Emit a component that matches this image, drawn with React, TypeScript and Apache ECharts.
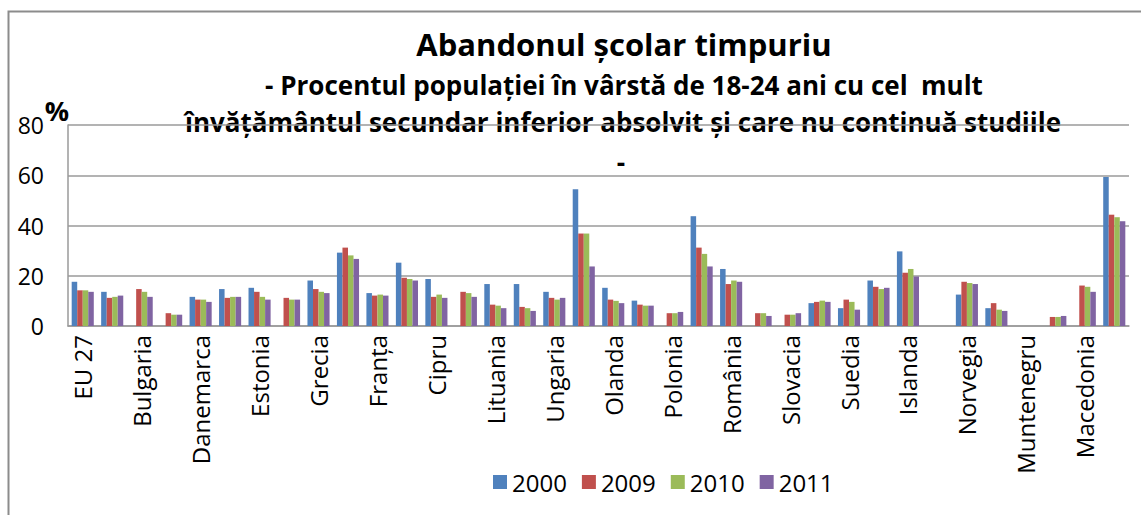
import React, { useEffect, useRef } from 'react';
import * as echarts from 'echarts';

const categories = [
  'EU 27', 'Belgia', 'Bulgaria', 'Cehia', 'Danemarca', 'Germania', 'Estonia', 'Irlanda',
  'Grecia', 'Spania', 'Franța', 'Italia', 'Cipru', 'Letonia', 'Lituania', 'Luxemburg',
  'Ungaria', 'Malta', 'Olanda', 'Austria', 'Polonia', 'Portugalia', 'România', 'Slovenia',
  'Slovacia', 'Finlanda', 'Suedia', 'Regatul Unit', 'Islanda', 'Liechtenstein', 'Norvegia',
  'Elveția', 'Muntenegru', 'Croația', 'Macedonia', 'Turcia',
];

const years = ['2000', '2009', '2010', '2011'];

const values2000 = [
  17.6, 13.6, null, null, 11.6, 14.7, 15.2, null, 18.1, 29.2, 13.1, 25.2, 18.7, null, 16.7, 16.7,
  13.6, 54.4, 15.2, 10.1, null, 43.7, 22.7, null, null, 9.1, 7.1, 18.1, 29.7, null, 12.5, 7.1,
  null, null, null, 59.3,
];
const values2009 = [
  14.2, 11.2, 14.7, 5.1, 10.5, 11.2, 13.6, 11.2, 14.7, 31.2, 12.1, 19.2, 11.6, 13.6, 8.5, 7.6,
  11.2, 36.8, 10.5, 8.5, 5.1, 31.2, 16.7, 5.1, 4.5, 9.6, 10.5, 15.6, 21.2, null, 17.6, 9.1,
  null, 3.6, 16.1, 44.3,
];
const values2010 = [
  14.2, 11.6, 13.6, 4.5, 10.5, 11.6, 11.6, 10.5, 13.6, 28.1, 12.5, 18.7, 12.5, 13.1, 8.1, 7.1,
  10.5, 36.8, 10.0, 8.1, 5.1, 28.7, 18.1, 5.1, 4.5, 10.1, 9.6, 14.7, 22.7, null, 17.1, 6.5,
  null, 3.6, 15.6, 43.3,
];
const values2011 = [
  13.6, 12.1, 11.6, 4.5, 9.6, 11.6, 10.5, 10.5, 13.1, 26.7, 12.1, 18.1, 11.2, 11.6, 7.1, 6.0,
  11.2, 23.7, 9.1, 8.1, 5.6, 23.7, 17.6, 4.0, 5.1, 9.6, 6.5, 15.2, 19.7, null, 16.7, 6.0,
  null, 4.0, 13.6, 41.7,
];

const seriesValues = [values2000, values2009, values2010, values2011];
const seriesColors = ['#4F81BD', '#C0504D', '#9BBB59', '#8064A2'];

const titleLines = [
  'Abandonul școlar timpuriu',
  '- Procentul populației în vârstă de 18-24 ani cu cel  mult',
  'învățământul secundar inferior absolvit și care nu continuă studiile',
  '-',
];
const yAxisUnit = '%';
const yMin = 0;
const yMax = 80;
const yInterval = 20;

const FONT = '"Open Sans", "Noto Sans", sans-serif';

export default function App() {
  const ref = useRef<HTMLDivElement>(null);

  useEffect(() => {
    if (!ref.current) return;
    const chart = echarts.init(ref.current, null, { renderer: 'svg' });
    const gridColor = '#9a9a9a';
    const titleText = (text: string, x: number, y: number, size: number) => ({
      type: 'text',
      x,
      y,
      silent: true,
      style: {
        text,
        font: `bold ${size}px ${FONT}`,
        fill: '#000',
        align: 'center',
        verticalAlign: 'middle',
      },
    });
    chart.setOption({
      animation: false,
      backgroundColor: '#ffffff',
      textStyle: { fontFamily: FONT },
      grid: { left: 68, right: 12, top: 125, bottom: 189, containLabel: false },
      legend: {
        data: years,
        left: 493,
        top: 470,
        icon: 'rect',
        itemWidth: 14,
        itemHeight: 14,
        itemGap: 15,
        padding: 0,
        textStyle: { fontSize: 24, color: '#000', fontFamily: FONT },
      },
      xAxis: {
        type: 'category',
        data: categories,
        axisLine: { show: true, lineStyle: { color: gridColor, width: 1.5 } },
        axisTick: { show: false },
        axisLabel: {
          interval: 1,
          rotate: 90,
          fontSize: 24,
          color: '#000',
          fontFamily: FONT,
          margin: 9,
        },
      },
      yAxis: {
        type: 'value',
        min: yMin,
        max: yMax,
        interval: yInterval,
        axisLine: { show: true, lineStyle: { color: gridColor, width: 1.5 } },
        axisTick: { show: false },
        splitLine: { show: true, lineStyle: { color: gridColor, width: 1.5 } },
        axisLabel: { fontSize: 23, color: '#000', fontFamily: FONT, margin: 24 },
      },
      series: years.map((y, i) => ({
        name: y,
        type: 'bar',
        data: seriesValues[i],
        barGap: '0%',
        barCategoryGap: '25%',
        itemStyle: { color: seriesColors[i] },
      })),
      graphic: [
        {
          type: 'polyline',
          silent: true,
          shape: { points: [[8.5, 600], [8.5, 11.5], [1200, 11.5]] },
          style: { stroke: '#8c8c8c', lineWidth: 2, fill: null },
        },
        titleText(titleLines[0], 624, 44, 31),
        titleText(titleLines[1], 624, 85, 26),
        titleText(titleLines[2], 623, 122, 26),
        titleText(titleLines[3], 621, 162, 26),
        {
          type: 'text',
          x: 57,
          y: 110,
          silent: true,
          style: {
            text: yAxisUnit,
            font: `bold 27px ${FONT}`,
            fill: '#000',
            align: 'center',
            verticalAlign: 'middle',
          },
        },
      ],
    });
    return () => chart.dispose();
  }, []);

  return (
    <div
      ref={ref}
      style={{ position: 'fixed', left: 0, top: 0, width: 1141, height: 515, background: '#fff' }}
    />
  );
}
